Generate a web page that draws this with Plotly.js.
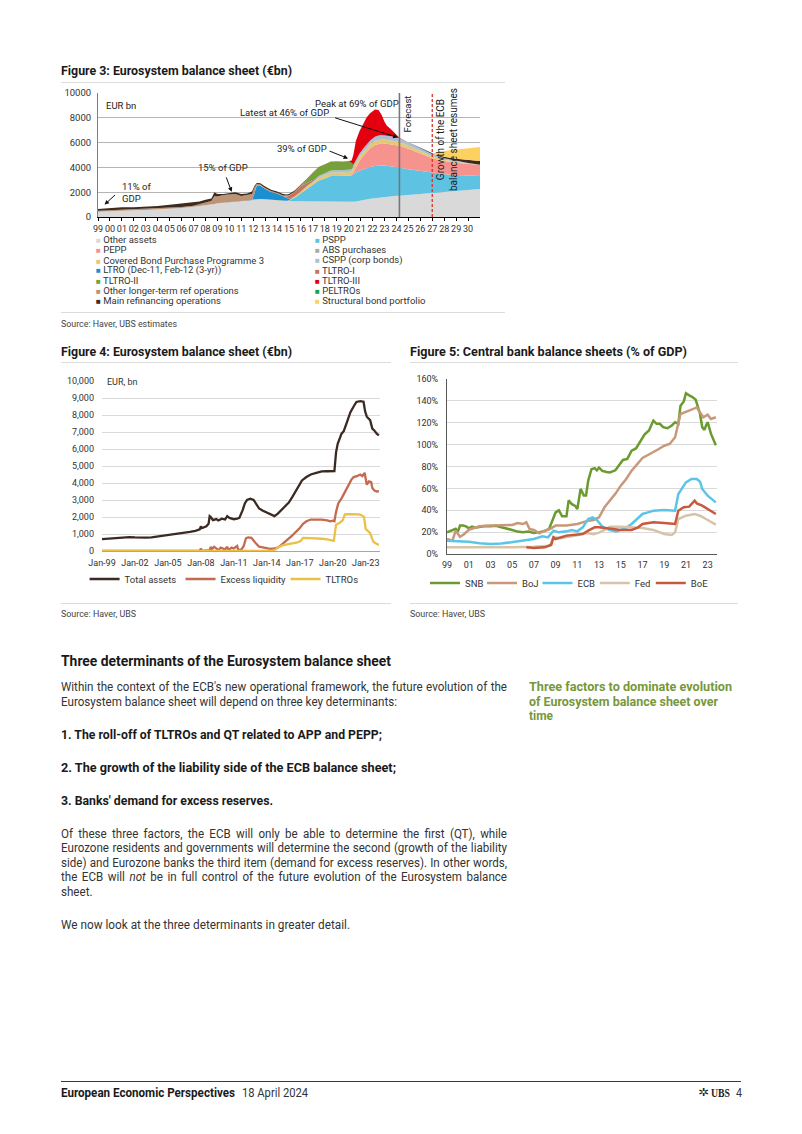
<!DOCTYPE html>
<html><head><meta charset="utf-8">
<script src="https://cdn.plot.ly/plotly-3.0.1.min.js"></script>
<style>
html,body{margin:0;padding:0;background:#fff;}
#page{position:relative;width:802px;height:1134px;overflow:hidden;font-family:Roboto,"Noto Sans",sans-serif;color:#333;}
.t{position:absolute;white-space:nowrap;transform-origin:0 50%;line-height:16px;height:16px;}
.b{font-weight:700;color:#1a1a1a;}
.rule{position:absolute;height:0;border-top:1px solid #dcdcdc;}
.chart{position:absolute;}
</style></head>
<body>
<div id="page">
  <div id="fig3" class="chart" style="left:55px;top:85px;width:450px;height:227px"></div>
  <div id="fig4" class="chart" style="left:55px;top:368px;width:340px;height:230px"></div>
  <div id="fig5" class="chart" style="left:405px;top:368px;width:335px;height:230px"></div>

  <div class="t b" data-x="61" data-y="71" data-w="231" style="font-size:12.5px">Figure 3: Eurosystem balance sheet (€bn)</div>
  <div class="rule" style="left:61px;top:82px;width:444px"></div>
  <div class="rule" style="left:61px;top:312px;width:444px"></div>
  <div class="t" data-x="61" data-y="323.5" data-w="116" style="font-size:9.5px;color:#444">Source: Haver, UBS estimates</div>

  <div class="t b" data-x="61" data-y="352" data-w="231" style="font-size:12.5px">Figure 4: Eurosystem balance sheet (€bn)</div>
  <div class="rule" style="left:61px;top:362px;width:330px"></div>
  <div class="rule" style="left:61px;top:603px;width:330px"></div>
  <div class="t" data-x="61" data-y="614" data-w="75" style="font-size:9.5px;color:#444">Source: Haver, UBS</div>

  <div class="t b" data-x="410" data-y="352" data-w="277" style="font-size:12.5px">Figure 5: Central bank balance sheets (% of GDP)</div>
  <div class="rule" style="left:410px;top:362px;width:328px"></div>
  <div class="rule" style="left:410px;top:603px;width:328px"></div>
  <div class="t" data-x="410" data-y="614" data-w="75" style="font-size:9.5px;color:#444">Source: Haver, UBS</div>

  <div class="t b" data-x="61" data-y="661" data-w="330" style="font-size:14px">Three determinants of the Eurosystem balance sheet</div>
  <div class="t" data-x="61" data-y="687" data-j="446" data-g="body" style="font-size:12px">Within the context of the ECB's new operational framework, the future evolution of the</div>
  <div class="t" data-x="61" data-y="701.7" data-w="336" data-ref="body" style="font-size:12px">Eurosystem balance sheet will depend on three key determinants:</div>
  <div class="t b" data-x="61" data-y="734.5" data-w="321" style="font-size:12px">1. The roll-off of TLTROs and QT related to APP and PEPP;</div>
  <div class="t b" data-x="61" data-y="767.7" data-w="335" style="font-size:12px">2. The growth of the liability side of the ECB balance sheet;</div>
  <div class="t b" data-x="61" data-y="800.7" data-w="212" style="font-size:12px">3. Banks' demand for excess reserves.</div>
  <div class="t" data-x="61" data-y="834" data-j="446" data-g="body" style="font-size:12px">Of these three factors, the ECB will only be able to determine the first (QT), while</div>
  <div class="t" data-x="61" data-y="848.4" data-j="446" data-g="body" style="font-size:12px">Eurozone residents and governments will determine the second (growth of the liability</div>
  <div class="t" data-x="61" data-y="863" data-j="446" data-g="body" style="font-size:12px">side) and Eurozone banks the third item (demand for excess reserves). In other words,</div>
  <div class="t" data-x="61" data-y="877.4" data-j="446" data-g="body" style="font-size:12px">the ECB will <i>not</i> be in full control of the future evolution of the Eurosystem balance</div>
  <div class="t" data-x="61" data-y="891.8" data-g="body" style="font-size:12px">sheet.</div>
  <div class="t" data-x="61" data-y="925" data-w="289" style="font-size:12px">We now look at the three determinants in greater detail.</div>

  <div class="t b" data-x="529" data-y="687" data-w="203" style="font-size:12px;color:#76983a">Three factors to dominate evolution</div>
  <div class="t b" data-x="529" data-y="701.7" data-w="189" style="font-size:12px;color:#76983a">of Eurosystem balance sheet over</div>
  <div class="t b" data-x="529" data-y="716" data-w="24" style="font-size:12px;color:#76983a">time</div>

  <div class="rule" style="left:61px;top:1081px;width:680px;border-top:1px solid #3a3a3a"></div>
  <div class="t b" data-x="61" data-y="1093" data-w="174" style="font-size:12px">European Economic Perspectives</div>
  <div class="t" data-x="242" data-y="1093" data-w="66" style="font-size:12px">18 April 2024</div>
  <div class="t" data-x="698" data-y="1093" data-w="11" style="font-size:11px;color:#222">✲</div>
  <div class="t b" data-x="711" data-y="1093" data-w="19" style="font-size:12px;font-family:'Liberation Serif',serif;color:#222">UBS</div>
  <div class="t" data-x="736" data-y="1093" data-w="6" style="font-size:12px">4</div>
</div>

<script>
// ---------------- Figure 3 data (EUR bn, stacked components) ----------------
var years3 = [1999,2000,2001,2002,2003,2004,2005,2006,2007,2007.5,2008,2008.5,2008.75,2009,2009.5,2010,2010.5,2011,2011.5,2011.9,2012.1,2012.3,2012.6,2013,2013.5,2014,2014.5,2014.8,2015,2015.5,2016,2016.5,2017,2017.5,2018,2018.5,2019,2019.5,2020,2020.25,2020.4,2020.6,2020.9,2021.25,2021.5,2021.8,2022.2,2022.5,2022.75,2023,2023.2,2023.5,2023.75,2024,2024.25,2025,2026,2027,2027.5,2028,2029,2030,2031];
var otherAssets = [430,480,520,540,560,600,660,730,820,870,930,980,1050,1100,1150,1200,1250,1250,1300,1370,1400,1440,1460,1430,1390,1320,1290,1290,1290,1270,1260,1250,1250,1240,1230,1220,1210,1200,1180,1190,1220,1260,1320,1380,1420,1470,1510,1550,1580,1610,1630,1660,1690,1710,1720,1780,1860,1950,1990,2030,2100,2180,2250];
var pspp = [0,0,0,0,0,0,0,0,0,0,0,0,0,0,0,0,0,0,0,0,0,0,0,0,0,0,0,0,30,300,650,1000,1400,1700,1880,2080,2100,2100,2150,2170,2250,2320,2400,2480,2530,2570,2600,2600,2580,2540,2500,2440,2380,2320,2270,2070,1830,1630,1530,1420,1280,1150,1050];
var pepp = [0,0,0,0,0,0,0,0,0,0,0,0,0,0,0,0,0,0,0,0,0,0,0,0,0,0,0,0,0,0,0,0,0,0,0,0,0,0,0,0,150,450,800,1100,1300,1500,1700,1760,1780,1780,1780,1775,1770,1765,1760,1650,1430,1150,1100,1060,1000,950,900];
var cbpp3 = [0,0,0,0,0,0,0,0,0,0,0,0,0,0,0,0,0,0,0,0,0,0,0,0,0,0,0,20,40,90,160,190,210,230,245,250,260,262,270,275,278,282,285,290,292,296,300,300,298,295,290,285,280,275,270,240,200,150,125,100,60,30,10];
var absPurch = [0,0,0,0,0,0,0,0,0,0,0,0,0,0,0,0,0,0,0,0,0,0,0,0,0,0,0,0,0,10,20,22,24,25,27,27,28,28,28,28,28,28,28,28,28,28,28,28,27,26,25,24,22,21,20,18,15,10,8,5,0,0,0];
var cspp = [0,0,0,0,0,0,0,0,0,0,0,0,0,0,0,0,0,0,0,0,0,0,0,0,0,0,0,0,0,0,0,20,70,110,140,165,175,178,185,190,210,240,260,285,295,310,330,340,338,335,332,328,322,316,310,280,245,200,165,130,80,40,10];
var ltro3yr = [0,0,0,0,0,0,0,0,0,0,0,0,0,0,0,0,0,0,0,0,500,1100,1060,820,630,570,390,250,100,0,0,0,0,0,0,0,0,0,0,0,0,0,0,0,0,0,0,0,0,0,0,0,0,0,0,0,0,0,0,0,0,0,0];
var tltro1 = [0,0,0,0,0,0,0,0,0,0,0,0,0,0,0,0,0,0,0,0,0,0,0,0,0,0,0,100,250,380,420,250,30,0,0,0,0,0,0,0,0,0,0,0,0,0,0,0,0,0,0,0,0,0,0,0,0,0,0,0,0,0,0];
var tltro2 = [0,0,0,0,0,0,0,0,0,0,0,0,0,0,0,0,0,0,0,0,0,0,0,0,0,0,0,0,0,0,0,300,560,740,740,735,725,700,700,500,100,0,0,0,0,0,0,0,0,0,0,0,0,0,0,0,0,0,0,0,0,0,0];
var tltro3 = [0,0,0,0,0,0,0,0,0,0,0,0,0,0,0,0,0,0,0,0,0,0,0,0,0,0,0,0,0,0,0,0,0,0,0,0,0,0,0,200,800,1550,1800,2050,2150,2200,2200,2050,1650,1100,800,600,400,200,40,0,0,0,0,0,0,0,0];
var peltro = [0,0,0,0,0,0,0,0,0,0,0,0,0,0,0,0,0,0,0,0,0,0,0,0,0,0,0,0,0,0,0,0,0,0,0,0,0,0,0,0,0,15,25,25,20,15,5,0,0,0,0,0,0,0,0,0,0,0,0,0,0,0,0];
var otherLtro = [70,60,60,60,60,60,70,70,90,140,240,320,650,550,620,620,600,450,450,480,480,130,100,80,70,60,50,50,40,30,20,15,10,0,0,0,0,0,0,0,0,0,0,0,0,0,0,0,0,0,0,0,0,0,0,0,0,0,0,0,0,0,0];
var mro = [150,180,200,190,200,220,250,280,270,240,230,200,300,200,80,80,150,150,150,200,120,80,100,120,110,100,120,110,100,80,60,40,30,10,0,0,0,0,0,0,0,0,0,0,0,0,0,0,0,0,0,0,0,0,0,0,0,0,70,120,180,250,300];
var structBond = [0,0,0,0,0,0,0,0,0,0,0,0,0,0,0,0,0,0,0,0,0,0,0,0,0,0,0,0,0,0,0,0,0,0,0,0,0,0,0,0,0,0,0,0,0,0,0,0,0,0,0,0,0,0,0,0,0,0,300,480,720,920,1120];
var tickYears3 = [1999,2000,2001,2002,2003,2004,2005,2006,2007,2008,2009,2010,2011,2012,2013,2014,2015,2016,2017,2018,2019,2020,2021,2022,2023,2024,2025,2026,2027,2028,2029,2030];
var tickLabels3 = ['99','00','01','02','03','04','05','06','07','08','09','10','11','12','13','14','15','16','17','18','19','20','21','22','23','24','25','26','27','28','29','30'];
var forecastStart = 2024.25;
var growthResumes = 2027;
var legendLeft3 = ['Other assets','PEPP','Covered Bond Purchase Programme 3','LTRO (Dec-11, Feb-12 (3-yr))','TLTRO-II','Other longer-term ref operations','Main refinancing operations'];
var legendRight3 = ['PSPP','ABS purchases','CSPP (corp bonds)','TLTRO-I','TLTRO-III','PELTROs','Structural bond portfolio'];

// ---------------- Figure 4 data (EUR bn) ----------------
var totalX = [1999.0,1999.5,2000.0,2000.5,2001.0,2001.5,2002.0,2002.5,2003.0,2003.5,2004.0,2004.5,2005.0,2005.5,2006.0,2006.5,2007.0,2007.5,2007.9,2008.0,2008.1,2008.5,2008.7,2008.8,2008.9,2009.1,2009.4,2009.6,2009.9,2010.2,2010.4,2010.6,2010.8,2011.0,2011.3,2011.5,2011.8,2012.0,2012.2,2012.5,2012.8,2013.0,2013.3,2013.6,2014.0,2014.4,2014.7,2015.0,2015.3,2015.6,2016.0,2016.3,2016.6,2017.0,2017.2,2017.6,2018.0,2018.5,2019.0,2019.5,2020.0,2020.15,2020.3,2020.45,2020.8,2021.0,2021.3,2021.6,2021.9,2022.15,2022.5,2022.8,2022.95,2023.1,2023.4,2023.6,2023.8,2024.0,2024.2];
var totalAssets = [700,720,760,790,810,820,800,780,790,800,840,880,920,980,1030,1080,1120,1190,1280,1450,1350,1450,1600,2050,2000,1820,1880,1800,1900,1850,2050,1950,1900,1870,1900,1950,2400,2800,3000,3080,3000,2800,2500,2380,2250,2100,2050,2200,2400,2600,2850,3150,3500,3900,4150,4350,4500,4600,4680,4690,4680,4700,5800,6300,6900,7050,7600,8150,8500,8770,8820,8780,8200,7900,7700,7200,7080,6900,6800];
var excessX = [1999.0,2007.9,2008.0,2008.1,2008.8,2008.9,2009.0,2009.2,2009.4,2009.6,2009.8,2010.0,2010.2,2010.4,2010.5,2010.8,2011.0,2011.3,2011.4,2011.7,2011.9,2012.1,2012.3,2012.6,2012.8,2013.0,2013.3,2013.6,2014.0,2014.3,2014.7,2015.0,2015.3,2015.6,2016.0,2016.3,2016.6,2017.0,2017.3,2017.6,2018.0,2018.5,2019.0,2019.5,2019.8,2020.0,2020.15,2020.3,2020.5,2020.8,2021.1,2021.4,2021.7,2021.9,2022.2,2022.5,2022.7,2022.9,2023.0,2023.1,2023.3,2023.5,2023.6,2023.8,2024.0,2024.2];
var excessLiquidity = [0,0,150,0,50,250,100,250,150,50,200,150,100,250,50,200,150,300,50,100,300,750,800,780,600,450,250,200,150,120,150,200,350,500,700,900,1100,1350,1600,1750,1850,1870,1850,1800,1750,1780,1750,2300,2800,3100,3500,3900,4200,4350,4400,4500,4400,4600,4100,3900,4100,4050,3700,3550,3500,3520];
var tltroX = [1999.0,2014.6,2014.8,2015.0,2015.5,2016.0,2016.5,2016.8,2017.1,2017.3,2018.0,2018.5,2019.0,2019.5,2019.8,2020.1,2020.3,2020.6,2020.9,2021.1,2021.5,2022.0,2022.4,2022.7,2022.85,2023.0,2023.2,2023.4,2023.6,2023.7,2023.9,2024.2];
var tltros = [0,0,100,200,350,400,450,500,600,770,760,750,720,680,630,600,1550,1650,1800,2150,2170,2150,2150,2080,2000,1300,1150,1050,700,550,450,350];
var tickYears4 = [1999,2002,2005,2008,2011,2014,2017,2020,2023];
var tickLabels4 = ['Jan-99','Jan-02','Jan-05','Jan-08','Jan-11','Jan-14','Jan-17','Jan-20','Jan-23'];

// ---------------- Figure 5 data (% of GDP) ----------------
var snbX = [1999.0,1999.3,1999.6,1999.8,2000.0,2000.2,2000.5,2000.8,2001.0,2001.3,2001.6,2002.0,2002.5,2003.0,2003.5,2004.0,2004.5,2005.0,2005.5,2006.0,2006.5,2007.0,2007.5,2008.0,2008.4,2008.7,2009.0,2009.3,2009.6,2010.0,2010.2,2010.5,2010.8,2011.0,2011.3,2011.6,2011.8,2012.0,2012.3,2012.6,2012.8,2013.0,2013.3,2013.7,2014.0,2014.5,2014.8,2015.2,2015.6,2016.0,2016.4,2016.8,2017.2,2017.6,2017.9,2018.0,2018.3,2018.6,2018.9,2019.3,2019.7,2020.0,2020.3,2020.5,2020.8,2021.0,2021.3,2021.6,2021.9,2022.1,2022.3,2022.5,2022.7,2022.85,2023.0,2023.3,2023.5,2023.75];
var snb = [19.8,21,21.5,23,20.5,26,26,25,23.5,25,24,24.5,25.5,25.3,25.8,24.5,23.5,22,20.5,19.8,20.5,19.2,20,21,23,30,38,40,34.5,34.5,49,45.5,44,41,59.5,53.5,53.5,67,77.5,78.5,76.5,79,76,75,74.5,76.5,80.5,86,87,94.5,96.5,103.5,109.5,113,120.5,122,119,119,116,115,117.5,120.5,119,135.5,139.5,147,145,143.5,141,135.5,128,116,113.5,117.5,120.5,110,105,99.5];
var bojX = [1999.0,1999.5,1999.8,2000.2,2000.6,2001.0,2001.5,2002.0,2003.0,2004.0,2005.0,2005.5,2006.0,2006.3,2006.6,2007.0,2007.5,2008.0,2008.5,2009.0,2010.0,2011.0,2011.5,2012.0,2012.5,2013.0,2013.5,2014.0,2014.5,2015.0,2015.5,2016.0,2016.5,2017.0,2017.5,2018.0,2018.5,2019.0,2019.5,2020.0,2020.3,2020.5,2021.0,2021.5,2022.0,2022.3,2022.6,2023.0,2023.3,2023.75];
var boj = [13.7,12.2,21.3,15.8,18.3,22,23.8,25.3,26,26,26.5,28.3,27.4,29,23,22,19,21.3,23,26,26,27.4,29,30.5,31.1,33.5,42.7,48.8,55,62.5,68.6,76.2,82.3,87.8,90.5,93,96,99,100.6,106.7,119,128,130,131.7,134,129.5,125,127.4,123.4,125];
var ecbX = [1999.0,2000.0,2001.0,2002.0,2003.0,2004.0,2005.0,2006.0,2007.0,2007.8,2008.3,2008.8,2009.3,2010.0,2010.5,2011.0,2011.5,2012.0,2012.4,2012.8,2013.3,2014.0,2014.6,2015.0,2015.5,2016.0,2016.5,2017.0,2017.5,2018.0,2019.0,2019.7,2020.0,2020.3,2020.6,2021.0,2021.5,2022.0,2022.3,2022.5,2023.0,2023.5,2023.75];
var ecb = [12.2,12,11.3,9.8,9.1,9.5,10.7,12.2,13.7,16.2,15.2,21.3,19.8,20.7,22,20.7,24.4,32,33.5,31.1,25,22,20.7,22,24,27.4,32,36.6,38.1,39.6,40.2,39.6,39.6,54.9,59.4,65.5,68.6,68.6,66.1,59.4,53.3,48.8,47.2];
var fedX = [1999.0,2000.0,2001.0,2003.0,2005.0,2007.0,2008.5,2008.8,2009.5,2010.0,2011.0,2011.5,2012.0,2012.5,2013.0,2013.5,2014.0,2015.0,2016.0,2017.0,2018.0,2019.0,2019.7,2020.0,2020.3,2021.0,2021.8,2022.3,2023.0,2023.75];
var fed = [6.1,6.1,5.5,6.1,6.1,6.7,7.6,15.5,14.5,15.5,17,19,19,18,19.5,22,25,25,24.4,23.8,22,18.3,17.4,19.8,32,35,36.6,35,31.1,26.8];
var boeX = [2006.3,2007.0,2008.0,2008.6,2008.8,2009.0,2010.0,2011.0,2011.5,2012.0,2012.6,2013.0,2014.0,2015.0,2016.0,2016.6,2017.0,2018.0,2019.0,2020.0,2020.3,2020.8,2021.3,2021.6,2021.8,2022.0,2022.5,2023.0,2023.75];
var boe = [6.1,5.5,6.1,8.5,15.2,13.7,16.8,17.7,18.3,21.3,24.4,24.4,22.9,22,22,24.4,27.4,29,28.3,27.4,39.6,42.7,43.3,47.2,48.8,46.3,44.2,41.1,36.6];
var tickYears5 = [1999,2001,2003,2005,2007,2009,2011,2013,2015,2017,2019,2021,2023];
var tickLabels5 = ['99','01','03','05','07','09','11','13','15','17','19','21','23'];

// ---------------- Figure 3 ----------------
var FONT = 'Roboto, "Noto Sans", sans-serif';
var series3 = [
  {name:'Other assets', y:otherAssets, c:'#d9d9d9'},
  {name:'PSPP', y:pspp, c:'#5ec2e2'},
  {name:'PEPP', y:pepp, c:'#f6938e'},
  {name:'Covered Bond Purchase Programme 3', y:cbpp3, c:'#e6c870'},
  {name:'ABS purchases', y:absPurch, c:'#a8a8a8'},
  {name:'CSPP (corp bonds)', y:cspp, c:'#aebfd2'},
  {name:'LTRO (Dec-11, Feb-12 (3-yr))', y:ltro3yr, c:'#1b8fcf'},
  {name:'TLTRO-I', y:tltro1, c:'#c8735c'},
  {name:'TLTRO-II', y:tltro2, c:'#75a03a'},
  {name:'TLTRO-III', y:tltro3, c:'#e3000f'},
  {name:'PELTROs', y:peltro, c:'#14a24a'},
  {name:'Other longer-term ref operations', y:otherLtro, c:'#bc9475'},
  {name:'Main refinancing operations', y:mro, c:'#3d2b1f'},
  {name:'Structural bond portfolio', y:structBond, c:'#fdd15f'}
];
var colorOf = {};
series3.forEach(function(s){ colorOf[s.name] = s.c; });
var traces3 = series3.map(function(s){
  return {type:'scatter', mode:'lines', x:years3, y:s.y, name:s.name, stackgroup:'one',
          line:{width:0, color:s.c}, fillcolor:s.c, hoverinfo:'skip', showlegend:false};
});
function px3(x){ return (x-98)/382; }
function py3(y){ return (217-y)/124; }
var ann3 = [];
function lab3(x, y, text, extra){
  var a = {xref:'paper', yref:'paper', x:px3(x), y:py3(y), text:text, showarrow:false,
           xanchor:'left', yanchor:'middle', font:{size:9.5, color:'#222', family:FONT}, align:'left'};
  for (var k in extra) a[k] = extra[k];
  ann3.push(a);
}
function arrow3(xd, yd, ax, ay){
  ann3.push({xref:'x', yref:'y', x:xd, y:yd, text:'', showarrow:true, ax:ax, ay:ay,
             arrowhead:2, arrowsize:0.9, arrowwidth:1, arrowcolor:'#111', standoff:0});
}
lab3(104, 105, 'EUR bn');
lab3(313, 103, 'Peak at 69% of GDP');
lab3(238, 113, 'Latest at 46% of GDP');
lab3(275, 148, '39% of GDP');
lab3(196, 167, '15% of GDP');
lab3(120, 192.5, '11% of<br>GDP');
lab3(407, 114.5, 'Forecast', {textangle:-90, xanchor:'center'});
lab3(447, 140, 'Growth of the ECB<br>balance sheet resumes', {textangle:-90, xanchor:'center', align:'center', font:{size:10, color:'#222', family:FONT}});
arrow3(1999.55, 1000, 12, -11);
arrow3(2010.2, 2030, -6, -16);
arrow3(2019.95, 4720, -20, -8);
arrow3(2024.1, 6420, -64, -20);
function legRow(names, x){
  names.forEach(function(n, i){
    lab3(x, 239.7 + i*10.2, '<span style="color:' + colorOf[n] + ';font-size:8px">■</span> ' + n,
         {font:{size:9.5, color:'#333', family:FONT}});
  });
}
legRow(legendLeft3, 94);
legRow(legendRight3, 313);

var layout3 = {
  width:450, height:227, margin:{l:43, r:25, t:8, b:95, autoexpand:false},
  paper_bgcolor:'rgba(0,0,0,0)', plot_bgcolor:'#fff', showlegend:false, hovermode:false,
  font:{family:FONT, size:9.5, color:'#333'},
  xaxis:{range:[1999, 2031], tickmode:'array', tickvals:tickYears3, ticktext:tickLabels3, tickangle:0,
         ticks:'outside', ticklen:3, tickcolor:'#000', showline:true, linecolor:'#000', linewidth:1,
         showgrid:false, zeroline:false, fixedrange:true, tickfont:{size:9, color:'#333'}},
  yaxis:{range:[0, 10000], dtick:2000, tickformat:'d', showgrid:true, gridcolor:'#b4b4b4', gridwidth:1,
         showline:true, linecolor:'#808080', zeroline:false, ticks:'', ticklabelstandoff:4,
         fixedrange:true, tickfont:{size:9.5, color:'#333'}},
  annotations:ann3,
  shapes:[
    {type:'line', xref:'x', yref:'paper', x0:forecastStart, x1:forecastStart, y0:0, y1:1, line:{color:'#777', width:1.6}},
    {type:'line', xref:'x', yref:'paper', x0:growthResumes, x1:growthResumes, y0:0, y1:1, line:{color:'#d9322b', width:1.3, dash:'3px,2px'}}
  ]
};
Plotly.newPlot('fig3', traces3, layout3, {staticPlot:true, displayModeBar:false});

// ---------------- Figure 4 ----------------
var traces4 = [
  {type:'scatter', mode:'lines', x:totalX, y:totalAssets, name:'Total assets', line:{color:'#3a2a22', width:2.3}, legendwidth:51},
  {type:'scatter', mode:'lines', x:excessX, y:excessLiquidity, name:'Excess liquidity', line:{color:'#c46a50', width:2.3}, legendwidth:60},
  {type:'scatter', mode:'lines', x:tltroX, y:tltros, name:'TLTROs', line:{color:'#e9c048', width:2.3}, legendwidth:40}
];
var layout4 = {
  width:340, height:230, margin:{l:46.5, r:14.5, t:13, b:47, autoexpand:false},
  paper_bgcolor:'rgba(0,0,0,0)', plot_bgcolor:'#fff', hovermode:false,
  font:{family:FONT, size:9.5, color:'#333'},
  showlegend:true,
  legend:{orientation:'h', x:(84-101.5)/279, xanchor:'left', y:-28/170, yanchor:'middle',
          font:{size:9.5, color:'#333'}, bgcolor:'rgba(0,0,0,0)', itemclick:false},
  xaxis:{range:[1999, 2024.3], tickmode:'array', tickvals:tickYears4, ticktext:tickLabels4, tickangle:0,
         showgrid:false, zeroline:false, showline:true, linecolor:'#a6a6a6', ticks:'',
         ticklabelstandoff:3, fixedrange:true, tickfont:{size:9, color:'#333'}},
  yaxis:{range:[0, 10000], dtick:1000, tickformat:',', showgrid:true, gridcolor:'#dadada',
         zeroline:false, showline:false, ticks:'', ticklabelstandoff:7, fixedrange:true,
         tickfont:{size:9, color:'#333'}},
  annotations:[{xref:'paper', yref:'paper', x:(105-101.5)/279, y:(551-382)/170, text:'EUR, bn',
                showarrow:false, xanchor:'left', yanchor:'middle', font:{size:9, color:'#333'}}]
};
Plotly.newPlot('fig4', traces4, layout4, {staticPlot:true, displayModeBar:false});

// ---------------- Figure 5 ----------------
var traces5 = [
  {type:'scatter', mode:'lines', x:snbX, y:snb, name:'SNB', line:{color:'#6b9b2e', width:2.5}, legendwidth:12},
  {type:'scatter', mode:'lines', x:bojX, y:boj, name:'BoJ', line:{color:'#c8987a', width:2.5}, legendwidth:10.5},
  {type:'scatter', mode:'lines', x:ecbX, y:ecb, name:'ECB', line:{color:'#5bc5e8', width:2.5}, legendwidth:12.3},
  {type:'scatter', mode:'lines', x:fedX, y:fed, name:'Fed', line:{color:'#d6c3a8', width:2.5}, legendwidth:11},
  {type:'scatter', mode:'lines', x:boeX, y:boe, name:'BoE', line:{color:'#c55a3e', width:2.5}, legendwidth:20}
];
var layout5 = {
  width:335, height:230, margin:{l:42, r:23, t:11, b:44, autoexpand:false},
  paper_bgcolor:'rgba(0,0,0,0)', plot_bgcolor:'#fff', hovermode:false,
  font:{family:FONT, size:9.5, color:'#333'},
  showlegend:true,
  legend:{orientation:'h', x:(425-447)/270, xanchor:'left', y:-29/175, yanchor:'middle',
          font:{size:9.5, color:'#333'}, bgcolor:'rgba(0,0,0,0)', itemclick:false},
  xaxis:{range:[1999, 2023.86], tickmode:'array', tickvals:tickYears5, ticktext:tickLabels5, tickangle:0,
         showgrid:false, zeroline:false, showline:true, linecolor:'#595959', ticks:'',
         ticklabelstandoff:2, fixedrange:true, tickfont:{size:9, color:'#333'}},
  yaxis:{range:[0, 160], dtick:20, ticksuffix:'%', tickformat:'d', showgrid:true, gridcolor:'#dadada',
         zeroline:false, showline:true, linecolor:'#595959', ticks:'', ticklabelstandoff:6,
         fixedrange:true, tickfont:{size:9, color:'#333'}}
};
Plotly.newPlot('fig5', traces5, layout5, {staticPlot:true, displayModeBar:false});

// ---------------- HTML text layout (condensed to match the original typeface widths) ----------------
function layoutText(){
  var els = Array.prototype.slice.call(document.querySelectorAll('.t'));
  var groupScale = {};
  els.forEach(function(el){
    el.style.left = el.dataset.x + 'px';
    el.style.top = (parseFloat(el.dataset.y) - 8) + 'px';
    el._nat = el.getBoundingClientRect().width;
    if (el.dataset.w) {
      var s = parseFloat(el.dataset.w) / el._nat;
      el.style.transform = 'scaleX(' + s + ')';
      if (el.dataset.ref) groupScale[el.dataset.ref] = s;
    }
  });
  els.forEach(function(el){
    if (el.dataset.w) return;
    var s = groupScale[el.dataset.g] || 0.86;
    if (el.dataset.j) {
      var target = parseFloat(el.dataset.j) / s;
      var n = (el.textContent.match(/ /g) || []).length;
      el.style.wordSpacing = ((target - el._nat) / n) + 'px';
    }
    el.style.transform = 'scaleX(' + s + ')';
  });
}
if (document.fonts && document.fonts.ready) { document.fonts.ready.then(layoutText); } else { layoutText(); }
</script>
</body></html>
